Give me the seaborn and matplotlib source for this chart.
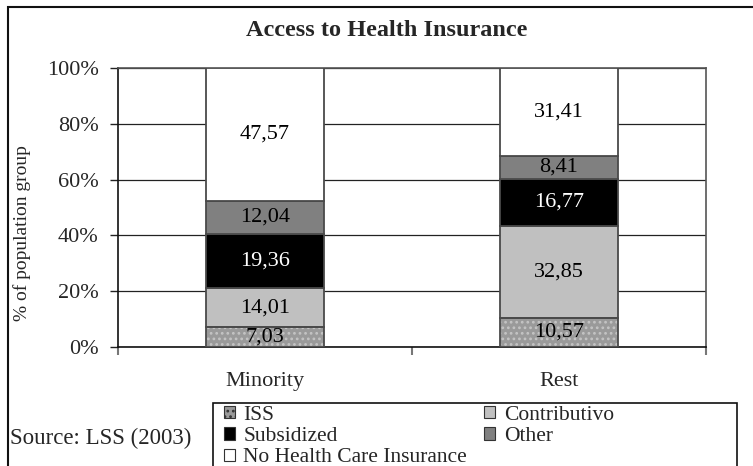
import matplotlib
matplotlib.use("Agg")
import matplotlib.pyplot as plt
from matplotlib.patches import Rectangle, Patch
import seaborn as sns
import pandas as pd
import numpy as np

# Data: share of each population group by type of health coverage (%)
groups = ["Minority", "Rest"]
segments = ["ISS", "Contributivo", "Subsidized", "Other", "No Health Care Insurance"]
iss = [7.03, 10.57]
contributivo = [14.01, 32.85]
subsidized = [19.36, 16.77]
other = [12.04, 8.41]
no_insurance = [47.57, 31.41]
y_ticks = [0, 20, 40, 60, 80, 100]

series = [iss, contributivo, subsidized, other, no_insurance]
fill_colors = ["#9a9a9a", "#c0c0c0", "#000000", "#808080", "#ffffff"]
text_colors = ["black", "black", "white", "black", "black"]

sns.set_theme(style="white")
plt.rcParams["font.family"] = ["Liberation Serif", "DejaVu Serif"]
plt.rcParams["hatch.linewidth"] = 1.2

W, H = 753, 466
fs = 16

fig = plt.figure(figsize=(W / 100, H / 100), dpi=100)
ax = fig.add_axes([118 / W, 1 - 347 / H, (706 - 118) / W, (347 - 68) / H])

bar_w = 0.4
bottoms = np.zeros(len(groups))
for name, vals, fc, tc in zip(segments, series, fill_colors, text_colors):
    df = pd.DataFrame({"group": groups, "value": vals})
    if name == "ISS":
        # dotted fill, then a plain outline on top
        sns.barplot(data=df, x="group", y="value", ax=ax, width=bar_w,
                    bottom=bottoms, color=fc, saturation=1, hatch="...",
                    edgecolor="#c4c4c4", linewidth=0, zorder=3)
        sns.barplot(data=df, x="group", y="value", ax=ax, width=bar_w,
                    bottom=bottoms, color="white", fill=False, saturation=1,
                    edgecolor="#4a4a4a", linewidth=1.3, zorder=4)
    else:
        sns.barplot(data=df, x="group", y="value", ax=ax, width=bar_w,
                    bottom=bottoms, color=fc, saturation=1,
                    edgecolor="#4a4a4a", linewidth=1.3, zorder=3)
    for i, v in enumerate(vals):
        ax.text(i, bottoms[i] + v / 2, f"{v:.2f}".replace(".", ","),
                ha="center", va="center", color=tc, fontsize=fs, zorder=5)
    bottoms = bottoms + np.array(vals)

ax.set_xlim(-0.5, 1.5)
ax.set_ylim(0, 100)
ax.set_yticks(y_ticks)
ax.set_yticklabels([f"{t}%" for t in y_ticks], fontsize=fs)
ax.yaxis.grid(True, color="#222222", linewidth=0.9, zorder=0)
ax.set_axisbelow(True)
ax.tick_params(axis="y", left=True, length=6, width=1, color="#222222", pad=8)

ax.set_xticks([0, 1])
ax.set_xticklabels(groups, fontsize=fs)
ax.set_xticks([-0.5, 0.5, 1.5], minor=True)
ax.tick_params(axis="x", which="major", bottom=False, length=0, pad=18)
ax.tick_params(axis="x", which="minor", bottom=True, length=6, width=1.5,
               color="#777777")
ax.set_xlabel("")
ax.set_ylabel("")

for side in ["top", "right"]:
    ax.spines[side].set_color("#555555")
    ax.spines[side].set_linewidth(1.2)
for side in ["left", "bottom"]:
    ax.spines[side].set_color("#111111")
    ax.spines[side].set_linewidth(1.2)

fig.text(22 / W, 1 - 233 / H, "% of population group", rotation=90,
         ha="center", va="center", fontsize=14)

fig.text(387 / W, 1 - 31 / H, "Access to Health Insurance",
         ha="center", va="center", fontsize=17.5, fontweight="bold")

# Outer chart frame
fig.patches.append(Rectangle((8 / W, -0.2), 1.2, 1.2 - 7 / H,
                             transform=fig.transFigure, fill=False,
                             edgecolor="#111111", linewidth=1.5))

fig.text(10 / W, 1 - 438 / H, "Source: LSS (2003)", ha="left",
         va="center", fontsize=16.5)

# Legend box
fig.patches.append(Rectangle((213 / W, -0.2), (737 - 213) / W, 0.2 + 1 - 403 / H,
                             transform=fig.transFigure, fill=False,
                             edgecolor="#111111", linewidth=1.2))

handles = {name: Patch(facecolor=fc, edgecolor="#333333", linewidth=0.8,
                       hatch=("..." if name == "ISS" else None))
           for name, fc in zip(segments, fill_colors)}
order = ["ISS", "Subsidized", "No Health Care Insurance", "Contributivo", "Other"]
leg = fig.legend([handles[n] for n in order], order, ncol=2,
                 loc="upper left", bbox_to_anchor=(224 / W, 1 - 406 / H),
                 frameon=False, fontsize=15.5,
                 handlelength=0.5, handleheight=0.5, handletextpad=0.4,
                 labelspacing=0.1, columnspacing=0.8, borderpad=0,
                 borderaxespad=0)

fig.savefig("out.png", dpi=100)
